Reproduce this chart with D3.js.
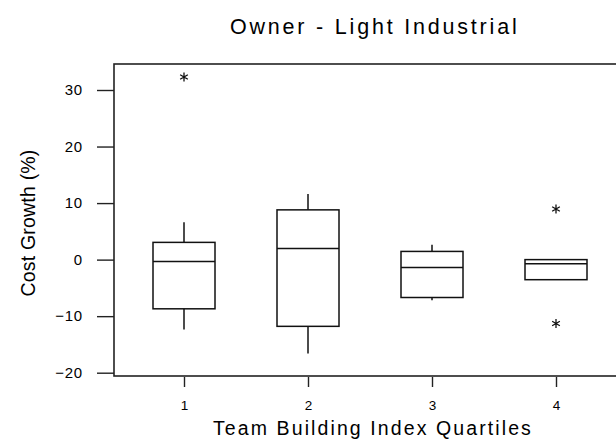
<!DOCTYPE html>
<html>
<head>
<meta charset="utf-8">
<script src="https://cdn.jsdelivr.net/npm/d3@7"></script>
<style>
  html, body { margin: 0; padding: 0; background: #fff; }
  svg { display: block; }
  text { font-family: "Liberation Sans", Arial, sans-serif; fill: #000; }
</style>
</head>
<body>
<svg id="chart" width="616" height="442"></svg>
<script>
// Cost growth by team building index quartile (owner, light industrial projects)
const quartiles = [1, 2, 3, 4];
const whiskerLow = [-12.35, -16.6, -7.2, -3.55];
const q1Values   = [-8.7, -11.8, -6.7, -3.55];
const medians    = [-0.35, 1.95, -1.4, -0.75];
const q3Values   = [3.05, 8.8, 1.45, 0];
const whiskerHigh = [6.6, 11.6, 2.65, 0];
const outliers   = [[32.3], [], [], [8.95, -11.3]];
const yTicks = [-20, -10, 0, 10, 20, 30];

const svg = d3.select("#chart");
const frame = { left: 114, top: 64, right: 640, bottom: 376 };
const font = "Liberation Sans, Arial, sans-serif";

const x = d3.scaleLinear().domain([1, 4]).range([184, 556]);
const y = d3.scaleLinear().domain([-20, 30]).range([372.7, 90]);
const boxW = 62;

// plot frame
svg.append("rect")
  .attr("x", frame.left).attr("y", frame.top)
  .attr("width", frame.right - frame.left).attr("height", frame.bottom - frame.top)
  .attr("fill", "none").attr("stroke", "#222").attr("stroke-width", 1.6);

// y axis ticks and labels
const yAxis = d3.axisLeft(y).tickValues(yTicks).tickSize(17).tickPadding(14).tickFormat(d3.format("d"));
const gy = svg.append("g").attr("transform", `translate(${frame.left},0)`).call(yAxis);
gy.select(".domain").remove();
gy.selectAll(".tick line").attr("stroke", "#222").attr("stroke-width", 1.4);
gy.selectAll(".tick text").style("font-size", "15px").style("font-family", font)
  .style("letter-spacing", "0.8px").attr("fill", "#000");

// x axis ticks and labels
const xAxis = d3.axisBottom(x).tickValues(quartiles).tickSize(10).tickPadding(13).tickFormat(d3.format("d"));
const gx = svg.append("g").attr("transform", `translate(0,${frame.bottom + 1})`).call(xAxis);
gx.select(".domain").remove();
gx.selectAll(".tick line").attr("stroke", "#222").attr("stroke-width", 1.4);
gx.selectAll(".tick text").style("font-size", "13.5px").style("font-family", font).attr("fill", "#000");

// box plots
const data = quartiles.map((q, i) => ({
  q, lo: whiskerLow[i], q1: q1Values[i], med: medians[i], q3: q3Values[i], hi: whiskerHigh[i], out: outliers[i]
}));

const g = svg.append("g").attr("stroke", "#111").attr("stroke-width", 1.5).attr("fill", "none");
data.forEach(d => {
  const cx = x(d.q);
  // whiskers
  g.append("line").attr("x1", cx).attr("x2", cx).attr("y1", y(d.hi)).attr("y2", y(d.q3));
  g.append("line").attr("x1", cx).attr("x2", cx).attr("y1", y(d.q1)).attr("y2", y(d.lo));
  // box
  g.append("rect").attr("x", cx - boxW / 2).attr("y", y(d.q3))
    .attr("width", boxW).attr("height", y(d.q1) - y(d.q3));
  // median
  g.append("line").attr("x1", cx - boxW / 2).attr("x2", cx + boxW / 2)
    .attr("y1", y(d.med)).attr("y2", y(d.med));
  // outliers
  d.out.forEach(v => {
    g.append("path").attr("d", d3.symbol(d3.symbolAsterisk, 55)())
      .attr("transform", `translate(${cx},${y(v)})`).attr("stroke-width", 1.3);
  });
});

// title and axis titles
svg.append("text").attr("x", 230).attr("y", 34)
  .style("font-size", "21.5px").style("letter-spacing", "2.8px").text("Owner - Light Industrial");
svg.append("text").attr("x", 213).attr("y", 435)
  .style("font-size", "19.5px").style("letter-spacing", "2.1px").text("Team Building Index Quartiles");
svg.append("text").attr("transform", "translate(35,223) rotate(-90)").attr("text-anchor", "middle")
  .style("font-size", "19.5px").style("letter-spacing", "0.2px").text("Cost Growth (%)");
</script>
</body>
</html>
